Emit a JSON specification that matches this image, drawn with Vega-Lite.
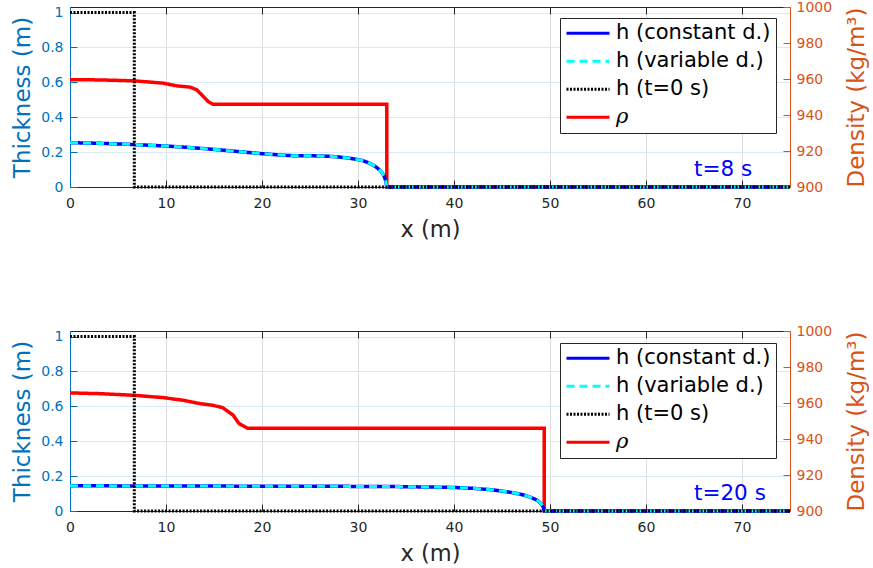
{
  "$schema": "https://vega.github.io/schema/vega-lite/v6.json",
  "background": "white",
  "padding": {"left": 11, "top": 0, "right": 0, "bottom": 0},
  "config": {
    "view": {"stroke": null},
    "font": "DejaVu Sans",
    "axis": {"labelFont": "DejaVu Sans", "titleFont": "DejaVu Sans", "titleFontWeight": "normal", "labelFlush": false, "labelOverlap": false}
  },
  "datasets": {
    "t8": [
      {"series": "h (constant d.)", "x": 0, "v": 0.254}, {"series": "h (constant d.)", "x": 2, "v": 0.252}, {"series": "h (constant d.)", "x": 4, "v": 0.249}, {"series": "h (constant d.)", "x": 6, "v": 0.245}, {"series": "h (constant d.)", "x": 8, "v": 0.240}, {"series": "h (constant d.)", "x": 10, "v": 0.235}, {"series": "h (constant d.)", "x": 12, "v": 0.228}, {"series": "h (constant d.)", "x": 14, "v": 0.220}, {"series": "h (constant d.)", "x": 16, "v": 0.211}, {"series": "h (constant d.)", "x": 18, "v": 0.201}, {"series": "h (constant d.)", "x": 20, "v": 0.191}, {"series": "h (constant d.)", "x": 22, "v": 0.183}, {"series": "h (constant d.)", "x": 23, "v": 0.180}, {"series": "h (constant d.)", "x": 24, "v": 0.179}, {"series": "h (constant d.)", "x": 25, "v": 0.179}, {"series": "h (constant d.)", "x": 26, "v": 0.178}, {"series": "h (constant d.)", "x": 27, "v": 0.176}, {"series": "h (constant d.)", "x": 28, "v": 0.172}, {"series": "h (constant d.)", "x": 29, "v": 0.166}, {"series": "h (constant d.)", "x": 30, "v": 0.157}, {"series": "h (constant d.)", "x": 30.5, "v": 0.151}, {"series": "h (constant d.)", "x": 31, "v": 0.141}, {"series": "h (constant d.)", "x": 31.5, "v": 0.128}, {"series": "h (constant d.)", "x": 32, "v": 0.110}, {"series": "h (constant d.)", "x": 32.4, "v": 0.090}, {"series": "h (constant d.)", "x": 32.7, "v": 0.065}, {"series": "h (constant d.)", "x": 32.9, "v": 0.035}, {"series": "h (constant d.)", "x": 33.0, "v": 0}, {"series": "h (constant d.)", "x": 75, "v": 0},
      {"series": "h (variable d.)", "x": 0, "v": 0.254}, {"series": "h (variable d.)", "x": 2, "v": 0.252}, {"series": "h (variable d.)", "x": 4, "v": 0.249}, {"series": "h (variable d.)", "x": 6, "v": 0.245}, {"series": "h (variable d.)", "x": 8, "v": 0.240}, {"series": "h (variable d.)", "x": 10, "v": 0.235}, {"series": "h (variable d.)", "x": 12, "v": 0.228}, {"series": "h (variable d.)", "x": 14, "v": 0.220}, {"series": "h (variable d.)", "x": 16, "v": 0.211}, {"series": "h (variable d.)", "x": 18, "v": 0.201}, {"series": "h (variable d.)", "x": 20, "v": 0.191}, {"series": "h (variable d.)", "x": 22, "v": 0.183}, {"series": "h (variable d.)", "x": 23, "v": 0.180}, {"series": "h (variable d.)", "x": 24, "v": 0.179}, {"series": "h (variable d.)", "x": 25, "v": 0.179}, {"series": "h (variable d.)", "x": 26, "v": 0.178}, {"series": "h (variable d.)", "x": 27, "v": 0.176}, {"series": "h (variable d.)", "x": 28, "v": 0.172}, {"series": "h (variable d.)", "x": 29, "v": 0.166}, {"series": "h (variable d.)", "x": 30, "v": 0.157}, {"series": "h (variable d.)", "x": 30.5, "v": 0.151}, {"series": "h (variable d.)", "x": 31, "v": 0.141}, {"series": "h (variable d.)", "x": 31.5, "v": 0.128}, {"series": "h (variable d.)", "x": 32, "v": 0.110}, {"series": "h (variable d.)", "x": 32.4, "v": 0.090}, {"series": "h (variable d.)", "x": 32.7, "v": 0.065}, {"series": "h (variable d.)", "x": 32.9, "v": 0.035}, {"series": "h (variable d.)", "x": 33.0, "v": 0}, {"series": "h (variable d.)", "x": 75, "v": 0},
      {"series": "h (t=0 s)", "x": 0, "v": 1}, {"series": "h (t=0 s)", "x": 6.7, "v": 1}, {"series": "h (t=0 s)", "x": 6.7, "v": 0}, {"series": "h (t=0 s)", "x": 75, "v": 0},
      {"series": "ρ", "x": 0, "v": 959.6}, {"series": "ρ", "x": 3, "v": 959.5}, {"series": "ρ", "x": 6.6, "v": 959.0}, {"series": "ρ", "x": 9.7, "v": 957.7}, {"series": "ρ", "x": 11.1, "v": 956.2}, {"series": "ρ", "x": 12.5, "v": 955.5}, {"series": "ρ", "x": 13.2, "v": 954.0}, {"series": "ρ", "x": 13.9, "v": 950.2}, {"series": "ρ", "x": 14.4, "v": 947.4}, {"series": "ρ", "x": 14.9, "v": 946.0}, {"series": "ρ", "x": 33.0, "v": 946.0}, {"series": "ρ", "x": 33.0, "v": 900}, {"series": "ρ", "x": 75, "v": 900}
    ],
    "t20": [
      {"series": "h (constant d.)", "x": 0, "v": 0.145}, {"series": "h (constant d.)", "x": 5, "v": 0.144}, {"series": "h (constant d.)", "x": 10, "v": 0.143}, {"series": "h (constant d.)", "x": 15, "v": 0.143}, {"series": "h (constant d.)", "x": 20, "v": 0.142}, {"series": "h (constant d.)", "x": 25, "v": 0.142}, {"series": "h (constant d.)", "x": 30, "v": 0.141}, {"series": "h (constant d.)", "x": 34, "v": 0.140}, {"series": "h (constant d.)", "x": 38, "v": 0.137}, {"series": "h (constant d.)", "x": 40, "v": 0.135}, {"series": "h (constant d.)", "x": 42, "v": 0.130}, {"series": "h (constant d.)", "x": 44, "v": 0.121}, {"series": "h (constant d.)", "x": 45, "v": 0.114}, {"series": "h (constant d.)", "x": 46, "v": 0.106}, {"series": "h (constant d.)", "x": 47, "v": 0.095}, {"series": "h (constant d.)", "x": 47.5, "v": 0.088}, {"series": "h (constant d.)", "x": 48, "v": 0.078}, {"series": "h (constant d.)", "x": 48.5, "v": 0.066}, {"series": "h (constant d.)", "x": 48.8, "v": 0.056}, {"series": "h (constant d.)", "x": 49.1, "v": 0.040}, {"series": "h (constant d.)", "x": 49.3, "v": 0.022}, {"series": "h (constant d.)", "x": 49.4, "v": 0}, {"series": "h (constant d.)", "x": 75, "v": 0},
      {"series": "h (variable d.)", "x": 0, "v": 0.145}, {"series": "h (variable d.)", "x": 5, "v": 0.144}, {"series": "h (variable d.)", "x": 10, "v": 0.143}, {"series": "h (variable d.)", "x": 15, "v": 0.143}, {"series": "h (variable d.)", "x": 20, "v": 0.142}, {"series": "h (variable d.)", "x": 25, "v": 0.142}, {"series": "h (variable d.)", "x": 30, "v": 0.141}, {"series": "h (variable d.)", "x": 34, "v": 0.140}, {"series": "h (variable d.)", "x": 38, "v": 0.137}, {"series": "h (variable d.)", "x": 40, "v": 0.135}, {"series": "h (variable d.)", "x": 42, "v": 0.130}, {"series": "h (variable d.)", "x": 44, "v": 0.121}, {"series": "h (variable d.)", "x": 45, "v": 0.114}, {"series": "h (variable d.)", "x": 46, "v": 0.106}, {"series": "h (variable d.)", "x": 47, "v": 0.095}, {"series": "h (variable d.)", "x": 47.5, "v": 0.088}, {"series": "h (variable d.)", "x": 48, "v": 0.078}, {"series": "h (variable d.)", "x": 48.5, "v": 0.066}, {"series": "h (variable d.)", "x": 48.8, "v": 0.056}, {"series": "h (variable d.)", "x": 49.1, "v": 0.040}, {"series": "h (variable d.)", "x": 49.3, "v": 0.022}, {"series": "h (variable d.)", "x": 49.4, "v": 0}, {"series": "h (variable d.)", "x": 75, "v": 0},
      {"series": "h (t=0 s)", "x": 0, "v": 1}, {"series": "h (t=0 s)", "x": 6.7, "v": 1}, {"series": "h (t=0 s)", "x": 6.7, "v": 0}, {"series": "h (t=0 s)", "x": 75, "v": 0},
      {"series": "ρ", "x": 0, "v": 965.6}, {"series": "ρ", "x": 3.1, "v": 965.2}, {"series": "ρ", "x": 6.6, "v": 964.3}, {"series": "ρ", "x": 9.7, "v": 963.0}, {"series": "ρ", "x": 11.8, "v": 961.5}, {"series": "ρ", "x": 13.5, "v": 959.7}, {"series": "ρ", "x": 14.9, "v": 958.7}, {"series": "ρ", "x": 15.9, "v": 957.4}, {"series": "ρ", "x": 17.0, "v": 953.2}, {"series": "ρ", "x": 17.6, "v": 948.6}, {"series": "ρ", "x": 18.5, "v": 946.0}, {"series": "ρ", "x": 49.4, "v": 946.0}, {"series": "ρ", "x": 49.4, "v": 900}, {"series": "ρ", "x": 75, "v": 900}
    ]
  },
  "bounds": "flush",
  "spacing": 144,
  "resolve": {"scale": {"color": "independent", "strokeDash": "independent"}},
  "vconcat": [
    {
      "width": 720,
      "height": 180,
      "data": {"name": "t8"},
      "resolve": {"scale": {"y": "independent"}, "axis": {"x": "independent", "y": "independent"}},
      "layer": [
        {
          "transform": [{"filter": "datum.series === 'ρ'"}],
          "mark": {"type": "line", "strokeWidth": 3.5, "strokeCap": "butt", "strokeJoin": "miter"},
          "encoding": {
            "x": {"field": "x", "type": "quantitative", "scale": {"domain": [0, 75], "nice": false, "zero": false},
              "axis": {"orient": "top", "values": [0, 10, 20, 30, 40, 50, 60, 70], "labels": false, "title": null, "grid": false, "tickSize": -7, "tickColor": "#262626", "domainColor": "#262626"}},
            "y": {"field": "v", "type": "quantitative", "scale": {"domain": [900, 1000], "nice": false, "zero": false},
              "axis": {"orient": "right", "values": [900, 920, 940, 960, 980, 1000], "format": "d", "grid": false, "title": "Density (kg/m³)", "titleAngle": 270, "titleFontSize": 23, "titleColor": "#D95319", "titlePadding": 37, "labelColor": "#D95319", "labelFontSize": 14, "labelPadding": 13, "tickSize": -7, "tickColor": "#D95319", "domainColor": "#D95319"}},
            "color": {"field": "series", "type": "nominal", "scale": {"domain": ["h (constant d.)", "h (variable d.)", "h (t=0 s)", "ρ"], "range": ["#0000FF", "#00FFFF", "#000000", "#FF0000"]},
              "legend": {"orient": "none", "legendX": 490, "legendY": 11, "title": null, "symbolType": "stroke", "symbolSize": 1849, "symbolStrokeWidth": 3, "labelFontSize": 21, "labelFont": "DejaVu Sans", "labelColor": "black", "labelLimit": 400, "labelOffset": 5, "padding": 5, "clipHeight": 20.6, "rowPadding": 6, "strokeColor": "#262626", "fillColor": "white", "cornerRadius": 0,
                "encode": {"labels": {"update": {"fontStyle": {"signal": "datum.value === 'ρ' ? 'italic' : 'normal'"}, "font": {"signal": "datum.value === 'ρ' ? 'DejaVu Serif' : 'DejaVu Sans'"}}}}}},
            "strokeDash": {"field": "series", "type": "nominal", "scale": {"domain": ["h (constant d.)", "h (variable d.)", "h (t=0 s)", "ρ"], "range": [[1, 0], [8, 5], [2, 1.5], [1, 0]]},
              "legend": {"orient": "none", "legendX": 490, "legendY": 11, "title": null, "symbolType": "stroke", "symbolSize": 1849, "symbolStrokeWidth": 3, "labelFontSize": 21, "labelFont": "DejaVu Sans", "labelColor": "black", "labelLimit": 400, "labelOffset": 5, "padding": 5, "clipHeight": 20.6, "rowPadding": 6, "strokeColor": "#262626", "fillColor": "white", "cornerRadius": 0,
                "encode": {"labels": {"update": {"fontStyle": {"signal": "datum.value === 'ρ' ? 'italic' : 'normal'"}, "font": {"signal": "datum.value === 'ρ' ? 'DejaVu Serif' : 'DejaVu Sans'"}}}}}}
          }
        },
        {
          "transform": [{"filter": "datum.series === 'h (constant d.)'"}],
          "mark": {"type": "line", "strokeWidth": 3.5, "strokeCap": "butt"},
          "encoding": {
            "x": {"field": "x", "type": "quantitative", "scale": {"domain": [0, 75], "nice": false, "zero": false},
              "axis": {"orient": "bottom", "values": [0, 10, 20, 30, 40, 50, 60, 70], "title": "x (m)", "titleFontSize": 22.5, "titleColor": "#262626", "titlePadding": 8.5, "labelColor": "#262626", "labelFontSize": 14, "labelPadding": 16, "tickSize": -7, "tickColor": "#262626", "domainColor": "#262626", "grid": true, "gridColor": "#dedede"}},
            "y": {"field": "v", "type": "quantitative", "scale": {"domain": [0, 1.032], "nice": false},
              "axis": {"orient": "left", "values": [0, 0.2, 0.4, 0.6, 0.8, 1], "format": "~g", "title": "Thickness (m)", "titleFontSize": 23, "titleColor": "#0072BD", "titlePadding": 6, "labelColor": "#0072BD", "labelFontSize": 14, "labelPadding": 14, "tickSize": -7, "tickColor": "#0072BD", "domainColor": "#0072BD", "grid": true, "gridColor": "#d9eaf5"}},
            "color": {"field": "series", "type": "nominal", "scale": {"domain": ["h (constant d.)", "h (variable d.)", "h (t=0 s)", "ρ"], "range": ["#0000FF", "#00FFFF", "#000000", "#FF0000"]}},
            "strokeDash": {"field": "series", "type": "nominal", "scale": {"domain": ["h (constant d.)", "h (variable d.)", "h (t=0 s)", "ρ"], "range": [[1, 0], [8, 5], [2, 1.5], [1, 0]]}}
          }
        },
        {
          "transform": [{"filter": "datum.series === 'h (variable d.)'"}],
          "mark": {"type": "line", "strokeWidth": 3, "strokeCap": "butt"},
          "encoding": {
            "x": {"field": "x", "type": "quantitative", "scale": {"domain": [0, 75], "nice": false, "zero": false}, "axis": null},
            "y": {"field": "v", "type": "quantitative", "scale": {"domain": [0, 1.032], "nice": false}, "axis": null},
            "color": {"field": "series", "type": "nominal", "scale": {"domain": ["h (constant d.)", "h (variable d.)", "h (t=0 s)", "ρ"], "range": ["#0000FF", "#00FFFF", "#000000", "#FF0000"]}},
            "strokeDash": {"field": "series", "type": "nominal", "scale": {"domain": ["h (constant d.)", "h (variable d.)", "h (t=0 s)", "ρ"], "range": [[1, 0], [8, 5], [2, 1.5], [1, 0]]}}
          }
        },
        {
          "transform": [{"filter": "datum.series === 'h (t=0 s)'"}],
          "mark": {"type": "line", "strokeWidth": 3, "strokeCap": "butt"},
          "encoding": {
            "x": {"field": "x", "type": "quantitative", "scale": {"domain": [0, 75], "nice": false, "zero": false}, "axis": null},
            "y": {"field": "v", "type": "quantitative", "scale": {"domain": [0, 1.032], "nice": false}, "axis": null},
            "color": {"field": "series", "type": "nominal", "scale": {"domain": ["h (constant d.)", "h (variable d.)", "h (t=0 s)", "ρ"], "range": ["#0000FF", "#00FFFF", "#000000", "#FF0000"]}},
            "strokeDash": {"field": "series", "type": "nominal", "scale": {"domain": ["h (constant d.)", "h (variable d.)", "h (t=0 s)", "ρ"], "range": [[1, 0], [8, 5], [2, 1.5], [1, 0]]}}
          }
        },
        {
          "data": {"values": [{"label": "t=8 s"}]},
          "mark": {"type": "text", "align": "left", "baseline": "middle", "fontSize": 21.5, "font": "DejaVu Sans", "color": "#0000FF"},
          "encoding": {
            "x": {"datum": 65, "type": "quantitative", "scale": {"domain": [0, 75], "nice": false, "zero": false}, "axis": null},
            "y": {"datum": 0.1, "type": "quantitative", "scale": {"domain": [0, 1.032], "nice": false}, "axis": null},
            "text": {"field": "label"}
          }
        }
      ]
    },
    {
      "width": 720,
      "height": 180,
      "data": {"name": "t20"},
      "resolve": {"scale": {"y": "independent"}, "axis": {"x": "independent", "y": "independent"}},
      "layer": [
        {
          "transform": [{"filter": "datum.series === 'ρ'"}],
          "mark": {"type": "line", "strokeWidth": 3.5, "strokeCap": "butt", "strokeJoin": "miter"},
          "encoding": {
            "x": {"field": "x", "type": "quantitative", "scale": {"domain": [0, 75], "nice": false, "zero": false},
              "axis": {"orient": "top", "values": [0, 10, 20, 30, 40, 50, 60, 70], "labels": false, "title": null, "grid": false, "tickSize": -7, "tickColor": "#262626", "domainColor": "#262626"}},
            "y": {"field": "v", "type": "quantitative", "scale": {"domain": [900, 1000], "nice": false, "zero": false},
              "axis": {"orient": "right", "values": [900, 920, 940, 960, 980, 1000], "format": "d", "grid": false, "title": "Density (kg/m³)", "titleAngle": 270, "titleFontSize": 23, "titleColor": "#D95319", "titlePadding": 37, "labelColor": "#D95319", "labelFontSize": 14, "labelPadding": 13, "tickSize": -7, "tickColor": "#D95319", "domainColor": "#D95319"}},
            "color": {"field": "series", "type": "nominal", "scale": {"domain": ["h (constant d.)", "h (variable d.)", "h (t=0 s)", "ρ"], "range": ["#0000FF", "#00FFFF", "#000000", "#FF0000"]},
              "legend": {"orient": "none", "legendX": 490, "legendY": 12, "title": null, "symbolType": "stroke", "symbolSize": 1849, "symbolStrokeWidth": 3, "labelFontSize": 21, "labelFont": "DejaVu Sans", "labelColor": "black", "labelLimit": 400, "labelOffset": 5, "padding": 5, "clipHeight": 20.6, "rowPadding": 6, "strokeColor": "#262626", "fillColor": "white", "cornerRadius": 0,
                "encode": {"labels": {"update": {"fontStyle": {"signal": "datum.value === 'ρ' ? 'italic' : 'normal'"}, "font": {"signal": "datum.value === 'ρ' ? 'DejaVu Serif' : 'DejaVu Sans'"}}}}}},
            "strokeDash": {"field": "series", "type": "nominal", "scale": {"domain": ["h (constant d.)", "h (variable d.)", "h (t=0 s)", "ρ"], "range": [[1, 0], [8, 5], [2, 1.5], [1, 0]]},
              "legend": {"orient": "none", "legendX": 490, "legendY": 12, "title": null, "symbolType": "stroke", "symbolSize": 1849, "symbolStrokeWidth": 3, "labelFontSize": 21, "labelFont": "DejaVu Sans", "labelColor": "black", "labelLimit": 400, "labelOffset": 5, "padding": 5, "clipHeight": 20.6, "rowPadding": 6, "strokeColor": "#262626", "fillColor": "white", "cornerRadius": 0,
                "encode": {"labels": {"update": {"fontStyle": {"signal": "datum.value === 'ρ' ? 'italic' : 'normal'"}, "font": {"signal": "datum.value === 'ρ' ? 'DejaVu Serif' : 'DejaVu Sans'"}}}}}}
          }
        },
        {
          "transform": [{"filter": "datum.series === 'h (constant d.)'"}],
          "mark": {"type": "line", "strokeWidth": 3.5, "strokeCap": "butt"},
          "encoding": {
            "x": {"field": "x", "type": "quantitative", "scale": {"domain": [0, 75], "nice": false, "zero": false},
              "axis": {"orient": "bottom", "values": [0, 10, 20, 30, 40, 50, 60, 70], "title": "x (m)", "titleFontSize": 22.5, "titleColor": "#262626", "titlePadding": 8.5, "labelColor": "#262626", "labelFontSize": 14, "labelPadding": 16, "tickSize": -7, "tickColor": "#262626", "domainColor": "#262626", "grid": true, "gridColor": "#dedede"}},
            "y": {"field": "v", "type": "quantitative", "scale": {"domain": [0, 1.032], "nice": false},
              "axis": {"orient": "left", "values": [0, 0.2, 0.4, 0.6, 0.8, 1], "format": "~g", "title": "Thickness (m)", "titleFontSize": 23, "titleColor": "#0072BD", "titlePadding": 6, "labelColor": "#0072BD", "labelFontSize": 14, "labelPadding": 14, "tickSize": -7, "tickColor": "#0072BD", "domainColor": "#0072BD", "grid": true, "gridColor": "#d9eaf5"}},
            "color": {"field": "series", "type": "nominal", "scale": {"domain": ["h (constant d.)", "h (variable d.)", "h (t=0 s)", "ρ"], "range": ["#0000FF", "#00FFFF", "#000000", "#FF0000"]}},
            "strokeDash": {"field": "series", "type": "nominal", "scale": {"domain": ["h (constant d.)", "h (variable d.)", "h (t=0 s)", "ρ"], "range": [[1, 0], [8, 5], [2, 1.5], [1, 0]]}}
          }
        },
        {
          "transform": [{"filter": "datum.series === 'h (variable d.)'"}],
          "mark": {"type": "line", "strokeWidth": 3, "strokeCap": "butt"},
          "encoding": {
            "x": {"field": "x", "type": "quantitative", "scale": {"domain": [0, 75], "nice": false, "zero": false}, "axis": null},
            "y": {"field": "v", "type": "quantitative", "scale": {"domain": [0, 1.032], "nice": false}, "axis": null},
            "color": {"field": "series", "type": "nominal", "scale": {"domain": ["h (constant d.)", "h (variable d.)", "h (t=0 s)", "ρ"], "range": ["#0000FF", "#00FFFF", "#000000", "#FF0000"]}},
            "strokeDash": {"field": "series", "type": "nominal", "scale": {"domain": ["h (constant d.)", "h (variable d.)", "h (t=0 s)", "ρ"], "range": [[1, 0], [8, 5], [2, 1.5], [1, 0]]}}
          }
        },
        {
          "transform": [{"filter": "datum.series === 'h (t=0 s)'"}],
          "mark": {"type": "line", "strokeWidth": 3, "strokeCap": "butt"},
          "encoding": {
            "x": {"field": "x", "type": "quantitative", "scale": {"domain": [0, 75], "nice": false, "zero": false}, "axis": null},
            "y": {"field": "v", "type": "quantitative", "scale": {"domain": [0, 1.032], "nice": false}, "axis": null},
            "color": {"field": "series", "type": "nominal", "scale": {"domain": ["h (constant d.)", "h (variable d.)", "h (t=0 s)", "ρ"], "range": ["#0000FF", "#00FFFF", "#000000", "#FF0000"]}},
            "strokeDash": {"field": "series", "type": "nominal", "scale": {"domain": ["h (constant d.)", "h (variable d.)", "h (t=0 s)", "ρ"], "range": [[1, 0], [8, 5], [2, 1.5], [1, 0]]}}
          }
        },
        {
          "data": {"values": [{"label": "t=20 s"}]},
          "mark": {"type": "text", "align": "left", "baseline": "middle", "fontSize": 21.5, "font": "DejaVu Sans", "color": "#0000FF"},
          "encoding": {
            "x": {"datum": 65, "type": "quantitative", "scale": {"domain": [0, 75], "nice": false, "zero": false}, "axis": null},
            "y": {"datum": 0.1, "type": "quantitative", "scale": {"domain": [0, 1.032], "nice": false}, "axis": null},
            "text": {"field": "label"}
          }
        }
      ]
    }
  ]
}
